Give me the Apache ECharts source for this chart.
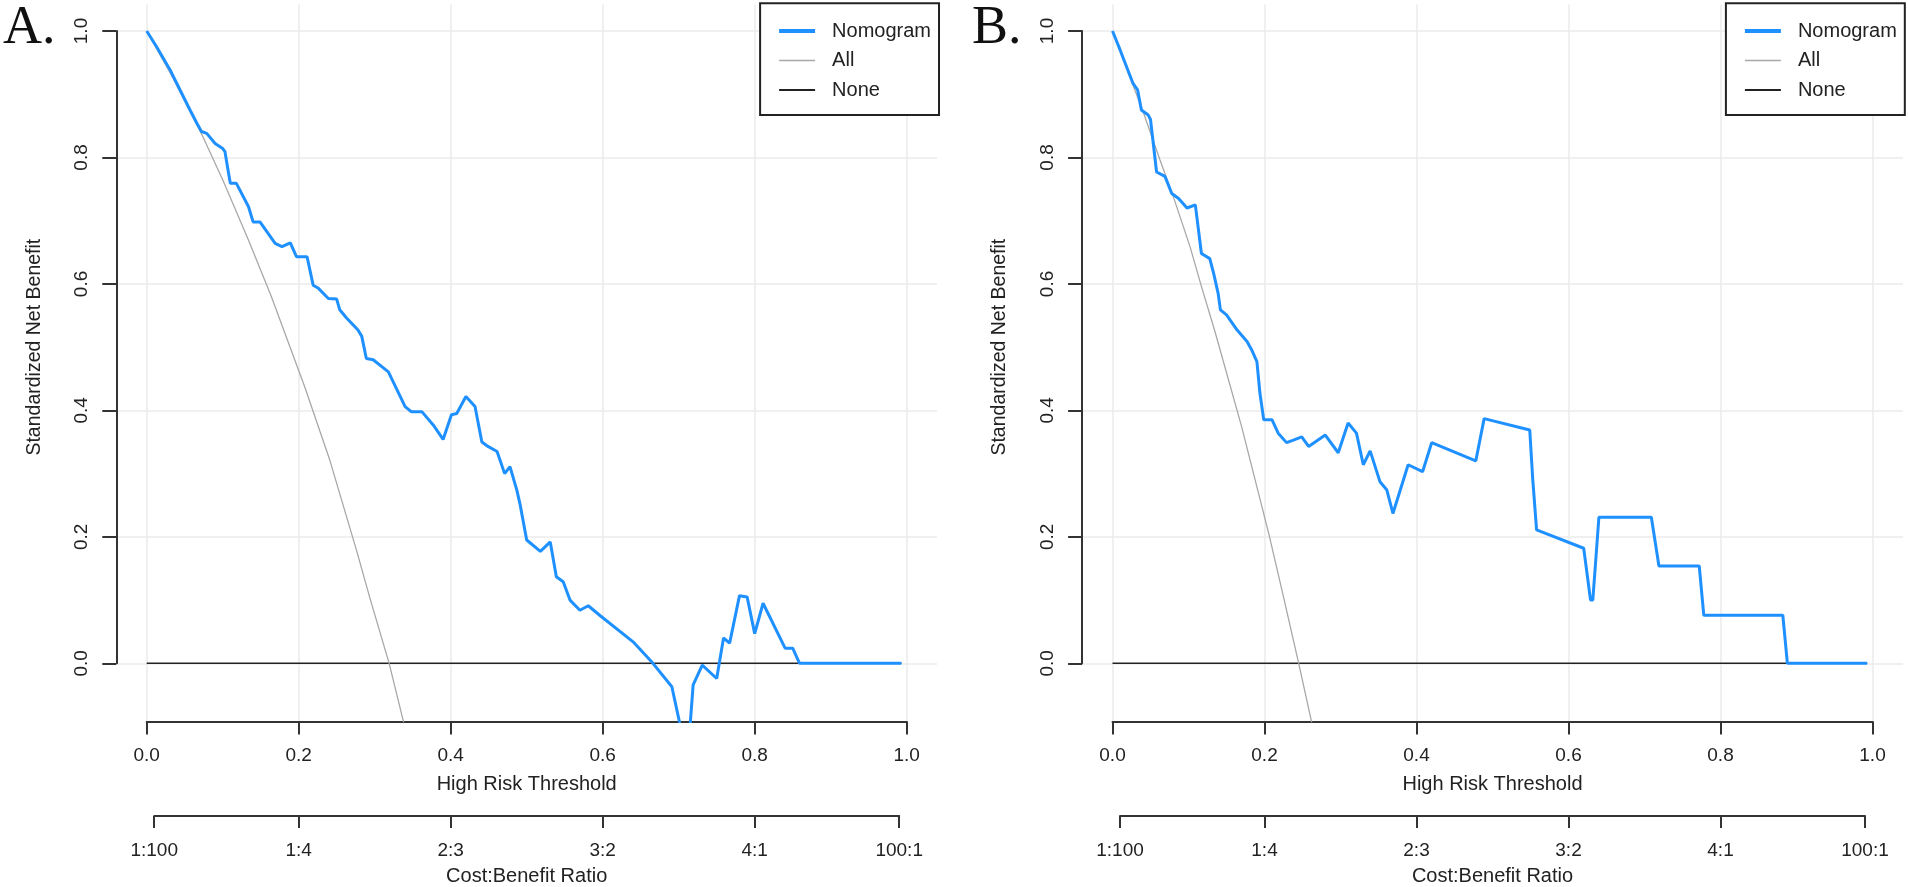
<!DOCTYPE html>
<html>
<head>
<meta charset="utf-8">
<title>Decision curves</title>
<script src="https://cdn.jsdelivr.net/npm/echarts@6/dist/echarts.min.js"></script>
<style>
  html, body { margin: 0; padding: 0; background: #fff; }
  #main { width: 1908px; height: 887px; }
</style>
</head>
<body>
<div id="main"></div>
<script>
// tick labels
var thresholdTicks = [0, 0.2, 0.4, 0.6, 0.8, 1.0];
var costBenefitTicks = [1 / 101, 0.2, 0.4, 0.6, 0.8, 100 / 101];
var costBenefitLabels = ['1:100', '1:4', '2:3', '3:2', '4:1', '100:1'];

// panel A - nomogram
var nomoA_x = [0, 0.013, 0.031, 0.035, 0.057, 0.066, 0.072, 0.079, 0.090, 0.100, 0.103, 0.107, 0.110, 0.118,
  0.134, 0.140, 0.149, 0.169, 0.178, 0.189, 0.197, 0.211, 0.219, 0.226, 0.239, 0.250, 0.254, 0.263, 0.278,
  0.283, 0.289, 0.298, 0.318, 0.340, 0.348, 0.362, 0.377, 0.390, 0.401, 0.408, 0.420, 0.432, 0.441, 0.449,
  0.461, 0.471, 0.478, 0.487, 0.491, 0.500, 0.518, 0.531, 0.539, 0.548, 0.557, 0.570, 0.581, 0.596, 0.640,
  0.664, 0.691, 0.705, 0.714, 0.719, 0.731, 0.750, 0.759, 0.767, 0.780, 0.790, 0.800, 0.811, 0.840, 0.850,
  0.859, 0.993];
var nomoA_y = [1.0, 0.975, 0.938, 0.928, 0.875, 0.854, 0.841, 0.838, 0.822, 0.814, 0.809, 0.780, 0.759, 0.759,
  0.722, 0.698, 0.698, 0.664, 0.659, 0.665, 0.643, 0.643, 0.598, 0.593, 0.577, 0.576, 0.559, 0.546, 0.527,
  0.517, 0.482, 0.480, 0.461, 0.406, 0.398, 0.398, 0.377, 0.354, 0.393, 0.395, 0.422, 0.406, 0.350, 0.343,
  0.335, 0.300, 0.311, 0.274, 0.253, 0.195, 0.177, 0.192, 0.137, 0.129, 0.100, 0.084, 0.091, 0.076, 0.034,
  0.003, -0.037, -0.115, -0.115, -0.034, -0.003, -0.024, 0.040, 0.032, 0.107, 0.105, 0.047, 0.095, 0.024, 0.024,
  0.0, 0.0];
// panel A - treat all
var allA_x = [0, 0.035, 0.072, 0.101, 0.134, 0.164, 0.208, 0.241, 0.276, 0.294, 0.319, 0.338, 0.345];
var allA_y = [1.0, 0.925, 0.838, 0.762, 0.669, 0.580, 0.437, 0.321, 0.179, 0.102, 0.0, -0.093, -0.13];

// panel B - nomogram
var nomoB_x = [0, 0.010, 0.027, 0.033, 0.038, 0.047, 0.050, 0.058, 0.069, 0.078, 0.087, 0.098, 0.109, 0.117,
  0.128, 0.133, 0.139, 0.142, 0.150, 0.164, 0.177, 0.183, 0.190, 0.194, 0.199, 0.210, 0.218, 0.229, 0.238,
  0.249, 0.258, 0.280, 0.297, 0.310, 0.321, 0.330, 0.339, 0.352, 0.361, 0.369, 0.389, 0.408, 0.420, 0.478,
  0.489, 0.549, 0.553, 0.558, 0.620, 0.629, 0.632, 0.640, 0.709, 0.719, 0.772, 0.778, 0.882, 0.888, 0.993];
var nomoB_y = [1.0, 0.970, 0.917, 0.907, 0.875, 0.867, 0.860, 0.777, 0.770, 0.743, 0.735, 0.720, 0.725, 0.648,
  0.640, 0.617, 0.585, 0.559, 0.551, 0.527, 0.509, 0.496, 0.477, 0.427, 0.385, 0.385, 0.364, 0.349, 0.353,
  0.358, 0.343, 0.361, 0.333, 0.380, 0.364, 0.314, 0.336, 0.287, 0.274, 0.237, 0.314, 0.303, 0.349, 0.320,
  0.387, 0.369, 0.290, 0.211, 0.182, 0.100, 0.100, 0.231, 0.231, 0.154, 0.154, 0.076, 0.076, 0.0, 0.0];
// panel B - treat all
var allB_x = [0, 0.041, 0.0625, 0.080, 0.102, 0.117, 0.135, 0.170, 0.206, 0.225, 0.245, 0.262, 0.27];
var allB_y = [1.0, 0.870, 0.796, 0.738, 0.659, 0.596, 0.524, 0.374, 0.203, 0.105, 0.0, -0.093, -0.14];

// treat none
var none_x = [0, 0.993];
var none_y = [0, 0];

function pairs(xs, ys) {
  var out = [];
  for (var i = 0; i < xs.length; i++) {
    out.push([xs[i], ys[i]]);
  }
  return out;
}

var FONT = 'Liberation Sans';
var TXT = '#222';
var AXIS = '#333';
var GRID = '#ebebeb';
var BLUE = '#1e90ff';
var GREY = '#a8a8a8';
var DARK = '#222';

// one panel = three grids: data area, y-axis area, cost:benefit axis
function panel(k, x0, nomo, all) {
  var g = k * 3;
  var unit = 760;
  var grids = [
    { left: x0, top: 4.4, width: unit, height: 717.1 },
    { left: x0 - 0.04 * unit, top: 31, width: 1.08 * unit, height: 632.3 },
    { left: x0 + unit / 101, top: 815.7, width: unit * 99 / 101, height: 1 }
  ];
  var xAxes = [
    {
      gridIndex: g, type: 'value', min: 0, max: 1, interval: 0.2, position: 'bottom',
      axisLine: { show: true, onZero: false, lineStyle: { color: AXIS, width: 2 } },
      axisTick: { show: true, inside: false, length: 13, lineStyle: { color: AXIS, width: 2 } },
      axisLabel: { margin: 25, fontSize: 19, fontFamily: FONT, color: TXT,
        formatter: function (v) { return v.toFixed(1); } },
      splitLine: { show: true, lineStyle: { color: GRID, width: 1.5 } },
      name: 'High Risk Threshold', nameLocation: 'middle', nameGap: 53,
      nameTextStyle: { fontSize: 20, fontFamily: FONT, color: TXT }
    },
    { gridIndex: g + 1, type: 'value', min: -0.04, max: 1.04, show: false },
    {
      gridIndex: g + 2, type: 'value', min: costBenefitTicks[0], max: costBenefitTicks[5], position: 'bottom',
      axisLine: { show: true, onZero: false, lineStyle: { color: AXIS, width: 2 } },
      axisTick: { show: true, length: 12, customValues: costBenefitTicks, lineStyle: { color: AXIS, width: 2 } },
      axisLabel: { margin: 25, fontSize: 19, fontFamily: FONT, color: TXT, customValues: costBenefitTicks,
        formatter: function (v) {
          var best = 0;
          for (var i = 1; i < costBenefitTicks.length; i++) {
            if (Math.abs(costBenefitTicks[i] - v) < Math.abs(costBenefitTicks[best] - v)) best = i;
          }
          return costBenefitLabels[best];
        } },
      splitLine: { show: false },
      name: 'Cost:Benefit Ratio', nameLocation: 'middle', nameGap: 50,
      nameTextStyle: { fontSize: 20, fontFamily: FONT, color: TXT }
    }
  ];
  var yAxes = [
    { gridIndex: g, type: 'value', min: -0.092, max: 1.042, show: false },
    {
      gridIndex: g + 1, type: 'value', min: 0, max: 1, interval: 0.2, position: 'left',
      axisLine: { show: true, onZero: false, lineStyle: { color: AXIS, width: 2 } },
      axisTick: { show: true, inside: false, length: 14, lineStyle: { color: AXIS, width: 2 } },
      axisLabel: { margin: 25, rotate: 90, fontSize: 19, fontFamily: FONT, color: TXT,
        formatter: function (v) { return v.toFixed(1); } },
      splitLine: { show: true, lineStyle: { color: GRID, width: 1.5 } },
      name: 'Standardized Net Benefit', nameLocation: 'middle', nameGap: 72,
      nameTextStyle: { fontSize: 19.5, fontFamily: FONT, color: TXT }
    },
    { gridIndex: g + 2, type: 'value', min: 0, max: 1, show: false }
  ];
  var series = [
    { name: 'None', type: 'line', xAxisIndex: g, yAxisIndex: g, showSymbol: false, symbol: 'none',
      lineStyle: { color: DARK, width: 1.6 }, itemStyle: { color: DARK },
      data: pairs(none_x, none_y), z: 3 },
    { name: 'All', type: 'line', xAxisIndex: g, yAxisIndex: g, showSymbol: false, symbol: 'none',
      lineStyle: { color: GREY, width: 1.3 }, itemStyle: { color: GREY },
      data: pairs(all[0], all[1]), z: 4 },
    { name: 'Nomogram', type: 'line', xAxisIndex: g, yAxisIndex: g, showSymbol: false, symbol: 'none',
      lineStyle: { color: BLUE, width: 3 }, itemStyle: { color: BLUE },
      data: pairs(nomo[0], nomo[1]), z: 5 }
  ];
  var legend = {
    orient: 'vertical', left: x0 + 1.04 * unit - 177, top: 3.3,
    data: [
      { name: 'Nomogram', lineStyle: { color: BLUE, width: 4 } },
      { name: 'All', lineStyle: { color: GREY, width: 1.5 } },
      { name: 'None', lineStyle: { color: DARK, width: 1.8 } }
    ],
    itemWidth: 36, itemHeight: 14, itemGap: 9.5,
    padding: [17.7, 8, 15, 17],
    itemStyle: { opacity: 0 },
    backgroundColor: '#fff', borderColor: '#222', borderWidth: 2, borderRadius: 0,
    textStyle: { fontSize: 20, fontFamily: FONT, color: TXT, lineHeight: 14, padding: [0, 0, 0, 12] },
    selectedMode: false
  };
  return { grids: grids, xAxes: xAxes, yAxes: yAxes, series: series, legend: legend };
}

var pA = panel(0, 146.7, [nomoA_x, nomoA_y], [allA_x, allA_y]);
var pB = panel(1, 1112.5, [nomoB_x, nomoB_y], [allB_x, allB_y]);

var chart = echarts.init(document.getElementById('main'));
chart.setOption({
  backgroundColor: '#fff',
  animation: false,
  title: [
    { text: 'A.', left: 3, top: 2, padding: 0,
      textStyle: { fontFamily: 'Liberation Serif', fontSize: 54, fontWeight: 'normal', color: '#111' } },
    { text: 'B.', left: 972, top: 2, padding: 0,
      textStyle: { fontFamily: 'Liberation Serif', fontSize: 54, fontWeight: 'normal', color: '#111' } }
  ],
  legend: [pA.legend, pB.legend],
  grid: pA.grids.concat(pB.grids),
  xAxis: pA.xAxes.concat(pB.xAxes),
  yAxis: pA.yAxes.concat(pB.yAxes),
  series: pA.series.concat(pB.series)
});
</script>
</body>
</html>
